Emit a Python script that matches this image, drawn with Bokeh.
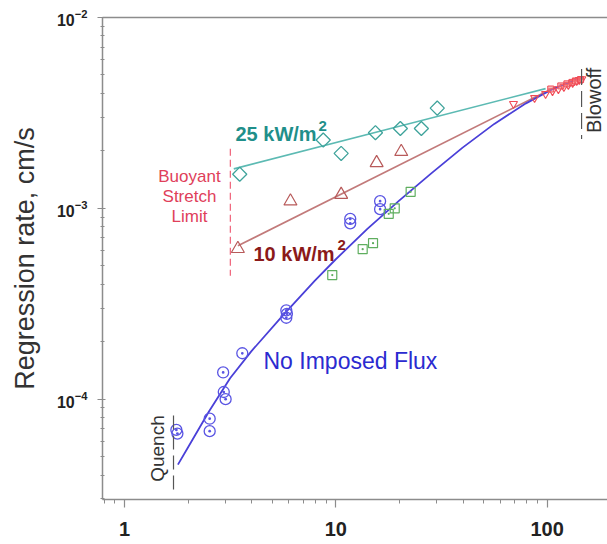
from bokeh.plotting import figure
from bokeh.models import LogAxis, CustomJSTickFormatter, LogTickFormatter, Range1d
from bokeh.core.properties import value
from bokeh.embed import file_html
from bokeh.resources import INLINE

FONT = "Liberation Sans"

# ---- data (x: stretch rate / flow, y: regression rate cm/s) ----
# No imposed flux (blue circles)
nf_x = [1.76, 1.78, 2.53, 2.53, 2.93, 2.95, 3.01, 3.61, 5.83, 5.83, 5.87, 11.7, 11.7, 16.2, 16.2]
nf_y = [6.9e-5, 6.6e-5, 7.9e-5, 6.8e-5, 1.38e-4, 1.09e-4, 1.0e-4, 1.74e-4,
        2.92e-4, 2.67e-4, 2.80e-4, 8.8e-4, 8.35e-4, 1.09e-3, 9.9e-4]
# additional no-flux data (green squares)
sq_x = [9.62, 13.4, 15.0, 17.8, 19.0, 22.6]
sq_y = [4.47e-4, 6.11e-4, 6.57e-4, 9.36e-4, 1.0e-3, 1.22e-3]
# 25 kW/m2 (teal diamonds)
q25_x = [3.51, 8.72, 10.6, 15.4, 20.2, 25.4, 30.2]
q25_y = [1.51e-3, 2.28e-3, 1.94e-3, 2.49e-3, 2.62e-3, 2.62e-3, 3.35e-3]
# 10 kW/m2 (triangles)
q10_x = [3.44, 6.10, 10.6, 15.6, 20.4]
q10_y = [6.14e-4, 1.09e-3, 1.18e-3, 1.73e-3, 1.98e-3]
# high stretch data near blowoff (red)
hi_tri_x = [69.3, 87.2, 98.3, 106, 113, 120, 126, 132, 138, 142, 146]
hi_tri_y = [3.53e-3, 3.79e-3, 3.98e-3, 4.12e-3, 4.22e-3, 4.33e-3, 4.43e-3, 4.54e-3, 4.65e-3, 4.71e-3, 4.76e-3]
hi_sq_x = [104, 116, 124, 131, 136, 144]
hi_sq_y = [4.22e-3, 4.38e-3, 4.49e-3, 4.57e-3, 4.65e-3, 4.73e-3]

# fitted curves
fit25_x = [3.29, 98.3]
fit25_y = [1.61e-3, 4.24e-3]
fit10_x = [3.44, 110]
fit10_y = [6.36e-4, 4.34e-3]
fitnf_x = [1.79, 2.0, 2.51, 3.16, 3.98, 5.62, 7.94, 10.0, 14.1, 20.0, 28.2, 39.8, 56.2, 79.4, 107, 145]
fitnf_y = [4.54e-5, 5.6e-5, 8.61e-5, 1.288e-4, 1.78e-4, 2.75e-4, 4.17e-4, 5.41e-4,
           7.80e-4, 1.10e-3, 1.52e-3, 2.08e-3, 2.77e-3, 3.55e-3, 4.23e-3, 4.86e-3]

# limits
bsl_x = [3.17, 3.17]
bsl_y = [2.05e-3, 4.43e-4]
quench_x = [1.706, 1.706]
quench_y = [8.2e-5, 3.32e-5]
blow_x = [145.5, 145.5]
blow_y = [5.37e-3, 2.31e-3]

p = figure(width=607, height=544, x_axis_type="log", y_axis_type="log",
           x_range=Range1d(0.787, 193.0), y_range=Range1d(2.98e-5, 1e-2),
           output_backend="svg", toolbar_location=None,
           min_border_left=102, min_border_right=0, min_border_top=17, min_border_bottom=45)
p.outline_line_color = None
p.background_fill_color = "white"
p.border_fill_color = "white"
p.xgrid.visible = False
p.ygrid.visible = False

AX = "#8c8c8c"
for ax in (p.xaxis[0], p.yaxis[0]):
    ax.axis_line_color = AX
    ax.axis_line_width = 1.5
    ax.major_tick_line_color = AX
    ax.minor_tick_line_color = AX
    ax.major_tick_line_width = 1.2
    ax.minor_tick_line_width = 1
    ax.major_label_text_font = FONT
    ax.major_label_text_font_style = "bold"
    ax.major_label_text_color = "#222222"

p.xaxis.formatter = CustomJSTickFormatter(code="return String(Math.round(tick));")
p.xaxis.major_label_text_font_size = "20px"
p.xaxis.major_tick_in = 0
p.xaxis.major_tick_out = 8
p.xaxis.minor_tick_in = 0
p.xaxis.minor_tick_out = 4
p.xaxis.major_label_standoff = 14

p.yaxis.formatter = LogTickFormatter()
p.yaxis.major_label_text_font_size = "16px"
p.yaxis.major_tick_in = 3
p.yaxis.major_tick_out = 5
p.yaxis.minor_tick_in = 2
p.yaxis.minor_tick_out = 2
p.yaxis.major_label_standoff = 10
p.yaxis.axis_label = "Regression rate, cm/s"
p.yaxis.axis_label_text_font = FONT
p.yaxis.axis_label_text_font_style = "normal"
p.yaxis.axis_label_text_font_size = "27px"
p.yaxis.axis_label_text_color = "#333333"
p.yaxis.axis_label_standoff = 14

top_axis = LogAxis(axis_line_color=AX, axis_line_width=1.5,
                   major_tick_line_color=None, minor_tick_line_color=None,
                   major_label_text_font_size="0px", major_label_text_color=None)
p.add_layout(top_axis, "above")

# fit lines
p.line(fit25_x, fit25_y, line_color="#5cbab3", line_width=1.6)
p.line(fit10_x, fit10_y, line_color="#c27a7a", line_width=1.6)
p.line(fitnf_x, fitnf_y, line_color="#4a40d8", line_width=1.8)

# data markers
p.scatter(nf_x, nf_y, marker="circle_dot", size=11, fill_color=None,
          line_color="#5a55e3", line_width=1.3)
p.scatter(sq_x, sq_y, marker="square_dot", size=9, fill_color=None,
          line_color="#5fae5f", line_width=1.2)
p.scatter(q25_x, q25_y, marker="square", angle=0.7854, size=10, fill_color=None,
          line_color="#3fa39b", line_width=1.3)
p.scatter(q10_x, q10_y, marker="triangle", size=13, fill_color=None,
          line_color="#b85a5a", line_width=1.2)
p.scatter(hi_tri_x, hi_tri_y, marker="inverted_triangle", size=8, fill_color=None,
          line_color="#f04a55", line_width=1.1)
p.scatter(hi_sq_x, hi_sq_y, marker="square", size=6, fill_color="#f57a7a", fill_alpha=0.5,
          line_color="#f04a55", line_width=1)

# limit markers
p.line(bsl_x, bsl_y, line_color="#f06a80", line_width=1.3, line_dash="7 4")
p.line(quench_x, quench_y, line_color="#555555", line_width=1.2, line_dash="14 6")
p.line(blow_x, blow_y, line_color="#555555", line_width=1.2, line_dash="16 6")

# annotations
def txt(x, y, s, size, color, style="normal", align="left", baseline="alphabetic", angle=0.0):
    p.text(x=[x], y=[y], text=[s], text_font=value(FONT), text_font_size=size,
           text_color=color, text_font_style=style, text_align=align,
           text_baseline=baseline, angle=angle)

txt(3.352, 2.455e-3, "25 kW/m", "20px", "#1f8f8a", "bold")
txt(8.28, 2.70e-3, "2", "15px", "#1f8f8a", "bold")
txt(4.078, 5.78e-4, "10 kW/m", "20px", "#8b1a1a", "bold")
txt(10.19, 6.44e-4, "2", "15px", "#8b1a1a", "bold")
txt(4.548, 1.59e-4, "No Imposed Flux", "23px", "#2b2bd0")
txt(2.03, 1.462e-3, "Buoyant", "17px", "#e0405a", align="center")
txt(2.03, 1.149e-3, "Stretch", "17px", "#e0405a", align="center")
txt(2.03, 9.03e-4, "Limit", "17px", "#e0405a", align="center")
txt(1.433, 5.51e-5, "Quench", "19px", "#333333", align="center", baseline="middle", angle=1.5708)
txt(165.8, 3.68e-3, "Blowoff", "20px", "#333333", align="center", baseline="middle", angle=1.5708)

open("out.html", "w").write(file_html(p, INLINE))
